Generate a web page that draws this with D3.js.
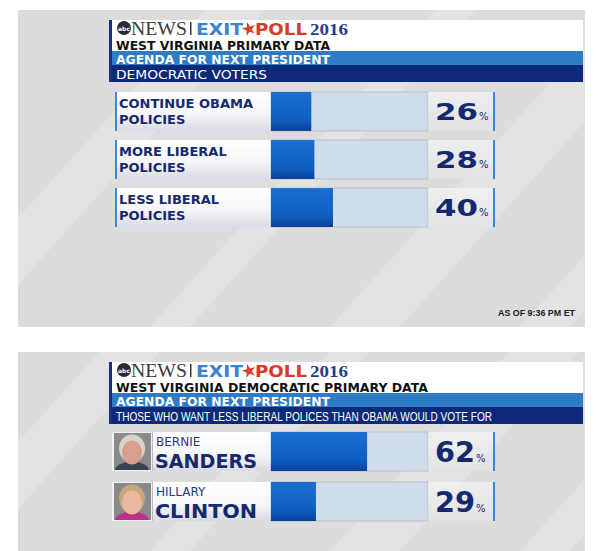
<!DOCTYPE html>
<html>
<head>
<meta charset="utf-8">
<script src="https://cdnjs.cloudflare.com/ajax/libs/d3/7.8.5/d3.min.js"></script>
<style>
  body { margin: 0; background: #fff; }
  svg { display: block; }
</style>
</head>
<body>
<svg id="chart" width="600" height="551"></svg>
<script>
// data
let agendaLabels = [["CONTINUE OBAMA", "POLICIES"], ["MORE LIBERAL", "POLICIES"], ["LESS LIBERAL", "POLICIES"]];
let agendaValues = [26, 28, 40];

let candidateFirst = ["BERNIE", "HILLARY"];
let candidateLast = ["SANDERS", "CLINTON"];
let candidateValues = [62, 29];

let topTitle = "WEST VIRGINIA PRIMARY DATA";
let bottomTitle = "WEST VIRGINIA DEMOCRATIC PRIMARY DATA";
let subTitle = "AGENDA FOR NEXT PRESIDENT";
let topNote = "DEMOCRATIC VOTERS";
let bottomNote = "THOSE WHO WANT LESS LIBERAL POLICES THAN OBAMA WOULD VOTE FOR";
let timeStamp = "AS OF 9:36 PM ET";

let svg = d3.select("#chart");
let defs = svg.append("defs");

// gradients
let g1 = defs.append("linearGradient").attr("id", "labelGrad").attr("x1", 0).attr("y1", 0).attr("x2", 0).attr("y2", 1);
g1.append("stop").attr("offset", "0%").attr("stop-color", "#ffffff");
g1.append("stop").attr("offset", "55%").attr("stop-color", "#f7f7f9");
g1.append("stop").attr("offset", "100%").attr("stop-color", "#d9dbe2");

let g2 = defs.append("linearGradient").attr("id", "barGrad").attr("x1", 0).attr("y1", 0).attr("x2", 0).attr("y2", 1);
g2.append("stop").attr("offset", "0%").attr("stop-color", "#1a6fd0");
g2.append("stop").attr("offset", "70%").attr("stop-color", "#0f5fc2");
g2.append("stop").attr("offset", "100%").attr("stop-color", "#0b3f98");

let g3 = defs.append("linearGradient").attr("id", "valGrad").attr("x1", 0).attr("y1", 0).attr("x2", 0).attr("y2", 1);
g3.append("stop").attr("offset", "0%").attr("stop-color", "#f6f6f6").attr("stop-opacity", 0.7);
g3.append("stop").attr("offset", "100%").attr("stop-color", "#e4e4e4").attr("stop-opacity", 0.7);

// scale shared by both panels
let x = d3.scaleLinear().domain([0, 100]).range([271, 426]);

let navy = "#14296e";

function drawPanel(top, height, id) {
  defs.append("clipPath").attr("id", "clip" + id)
    .append("rect").attr("x", 18).attr("y", top).attr("width", 567).attr("height", height);

  let p = svg.append("g").attr("clip-path", "url(#clip" + id + ")");
  p.append("rect").attr("x", 18).attr("y", top).attr("width", 567).attr("height", height).attr("fill", "#dcdcdc");

  // light diagonal bands
  let bands = [[-80, 60], [150, 40], [330, 70], [520, 50]];
  bands.forEach(b => {
    let x0 = b[0], w = b[1];
    p.append("polygon")
      .attr("points", [[x0, top + height], [x0 + w, top + height], [x0 + w + height * 0.9, top], [x0 + height * 0.9, top]].join(" "))
      .attr("fill", "#ffffff").attr("opacity", 0.2);
  });
  return p;
}

function drawHeader(top, title, note, narrow) {
  let h = svg.append("g");
  let whiteH = 31;
  h.append("rect").attr("x", 112).attr("y", top).attr("width", 471).attr("height", whiteH).attr("fill", "#ffffff");
  h.append("rect").attr("x", 112).attr("y", top + whiteH).attr("width", 471).attr("height", 14).attr("fill", "#2e7cc6");
  h.append("rect").attr("x", 112).attr("y", top + whiteH + 14).attr("width", 471).attr("height", 17).attr("fill", "#0d2a7a");
  h.append("rect").attr("x", 109).attr("y", top).attr("width", 3).attr("height", whiteH + 31).attr("fill", "#16307a");

  // logo mark
  h.append("circle").attr("cx", 124).attr("cy", top + 8).attr("r", 7).attr("fill", "#2b2b2b");
  h.append("rect").attr("x", 190).attr("y", top + 2).attr("width", 1.5).attr("height", 13).attr("fill", "#3a3a3a");
  let star = d3.symbol().type(d3.symbolStar).size(60);
  h.append("path").attr("d", star()).attr("transform", `translate(249,${top + 9}) rotate(-15)`).attr("fill", "#d8402f");

  // logo words + title in one text block
  let t = h.append("text").attr("font-family", "DejaVu Sans").attr("font-weight", "bold");
  t.append("tspan").attr("x", 124).attr("y", top + 10.5).attr("text-anchor", "middle")
    .attr("font-size", 6).attr("fill", "#fff").text("abc");
  t.append("tspan").attr("x", 131).attr("y", top + 14.5)
    .attr("font-family", "Liberation Serif").attr("font-weight", "normal").attr("font-size", 18).attr("fill", "#3a3a3a")
    .attr("textLength", 56).attr("lengthAdjust", "spacingAndGlyphs").text("NEWS");
  t.append("tspan").attr("x", 196).attr("y", top + 14.5)
    .attr("font-size", 15).attr("fill", "#3b82d1")
    .attr("textLength", 47).attr("lengthAdjust", "spacingAndGlyphs").text("EXIT");
  t.append("tspan").attr("x", 255).attr("y", top + 14.5)
    .attr("font-size", 15).attr("fill", "#d63b2c")
    .attr("textLength", 52).attr("lengthAdjust", "spacingAndGlyphs").text("POLL");
  t.append("tspan").attr("x", 310).attr("y", top + 14.5)
    .attr("font-family", "Liberation Serif").attr("font-size", 16).attr("fill", "#22408a")
    .attr("textLength", 38).attr("lengthAdjust", "spacingAndGlyphs").text("2016");
  t.append("tspan").attr("x", 116).attr("y", top + 29.5)
    .attr("font-size", 12).attr("fill", "#111")
    .attr("textLength", title.length > 30 ? 312 : 214).attr("lengthAdjust", "spacingAndGlyphs").text(title);

  h.append("text").attr("x", 116).attr("y", top + whiteH + 12.5)
    .attr("font-family", "DejaVu Sans").attr("font-weight", "bold").attr("font-size", 11.5).attr("fill", "#fff")
    .attr("textLength", 214).attr("lengthAdjust", "spacingAndGlyphs").text(subTitle);
  h.append("text").attr("x", 116).attr("y", top + whiteH + 28)
    .attr("font-family", narrow ? "Liberation Sans Narrow, Liberation Sans" : "DejaVu Sans").attr("font-size", 12).attr("fill", "#fff")
    .attr("textLength", narrow ? 376 : 151).attr("lengthAdjust", "spacingAndGlyphs").text(note);
}

function drawTrack(g, y, h, value, valueSize, valueWidth) {
  g.append("rect").attr("x", x(0)).attr("y", y).attr("width", x(100) - x(0) + 2).attr("height", h)
    .attr("fill", "#cfdcea").attr("stroke", "#b9c0c9").attr("stroke-width", 1);
  g.append("rect").attr("x", x(0)).attr("y", y).attr("width", x(value) - x(0)).attr("height", h)
    .attr("fill", "url(#barGrad)");
  g.append("rect").attr("x", x(100) + 2).attr("y", y).attr("width", 65).attr("height", h).attr("fill", "url(#valGrad)");
  g.append("rect").attr("x", 493).attr("y", y).attr("width", 2).attr("height", h).attr("fill", "#3c87d8");
  let t = g.append("text").attr("x", 435).attr("y", y + h * 0.5 + valueSize * 0.37)
    .attr("font-family", "DejaVu Sans").attr("font-weight", "bold").attr("fill", navy);
  t.append("tspan").attr("font-size", valueSize).attr("textLength", valueWidth).attr("lengthAdjust", "spacingAndGlyphs").text(value);
  t.append("tspan").attr("font-size", 10).attr("font-weight", "normal").attr("dx", 1).text("%");
}

// top panel
drawPanel(10, 317, "a");
drawHeader(20, topTitle, topNote, false);

let rowY = d3.scaleBand().domain(d3.range(agendaValues.length)).range([92, 227]).paddingInner(0.19);

let rows = svg.append("g");
agendaValues.forEach((v, i) => {
  let y = rowY(i), h = rowY.bandwidth();
  let g = rows.append("g");
  g.append("rect").attr("x", 117).attr("y", y).attr("width", 154).attr("height", h).attr("fill", "url(#labelGrad)");
  g.append("rect").attr("x", 115).attr("y", y).attr("width", 2).attr("height", h).attr("fill", "#3c87d8");
  let lt = g.append("text").attr("font-family", "DejaVu Sans").attr("font-weight", "bold")
    .attr("font-size", 13).attr("fill", navy);
  agendaLabels[i].forEach((line, j) => {
    lt.append("tspan").attr("x", 119).attr("y", y + 16 + j * 15.5).text(line);
  });
  drawTrack(g, y, h, v, 23, 43);
});

svg.append("text").attr("x", 575).attr("y", 316).attr("text-anchor", "end")
  .attr("font-family", "Liberation Sans Narrow, Liberation Sans").attr("font-weight", "bold").attr("font-size", 9)
  .attr("fill", "#222").attr("textLength", 77).attr("lengthAdjust", "spacingAndGlyphs").text(timeStamp);

// bottom panel
drawPanel(352, 199, "b");
drawHeader(362, bottomTitle, bottomNote, true);

let candY = d3.scaleBand().domain(d3.range(candidateValues.length)).range([432, 521]).paddingInner(0.22);

function drawFace(g, cx, cy, hair, shirt, skin) {
  g.append("rect").attr("x", cx - 19).attr("y", cy - 20).attr("width", 38).attr("height", 40).attr("fill", "#8a8a8a");
  g.append("ellipse").attr("cx", cx).attr("cy", cy + 19).attr("rx", 17).attr("ry", 9).attr("fill", shirt);
  g.append("ellipse").attr("cx", cx).attr("cy", cy - 3).attr("rx", 13).attr("ry", 14).attr("fill", hair);
  g.append("ellipse").attr("cx", cx).attr("cy", cy + 1).attr("rx", 10).attr("ry", 12).attr("fill", skin);
}

let cands = svg.append("g");
candidateValues.forEach((v, i) => {
  let y = candY(i), h = candY.bandwidth();
  let g = cands.append("g");
  g.append("rect").attr("x", 112).attr("y", y).attr("width", 40).attr("height", h).attr("fill", "#f2f2f2");
  let clipId = "face" + i;
  defs.append("clipPath").attr("id", clipId).append("rect").attr("x", 114).attr("y", y + 1).attr("width", 37).attr("height", h - 2);
  let fg = g.append("g").attr("clip-path", `url(#${clipId})`);
  if (i === 0) drawFace(fg, 132, y + h / 2, "#d8d2cc", "#3a4250", "#d6a08c");
  else drawFace(fg, 132, y + h / 2, "#c9a77a", "#c0308a", "#e8b7a0");

  g.append("rect").attr("x", 153).attr("y", y).attr("width", 118).attr("height", h).attr("fill", "url(#labelGrad)");
  g.append("rect").attr("x", 152).attr("y", y).attr("width", 1).attr("height", h).attr("fill", "#b5b8c0");
  let nt = g.append("text").attr("font-family", "DejaVu Sans").attr("fill", navy);
  nt.append("tspan").attr("x", 156).attr("y", y + 14).attr("font-size", 12).attr("fill", "#1f3a86").text(candidateFirst[i]);
  nt.append("tspan").attr("x", 155).attr("y", y + 36).attr("font-weight", "bold").attr("font-size", 19)
    .attr("textLength", 102).attr("lengthAdjust", "spacingAndGlyphs").text(candidateLast[i]);
  drawTrack(g, y, h, v, 29, 40);
});
</script>
</body>
</html>
